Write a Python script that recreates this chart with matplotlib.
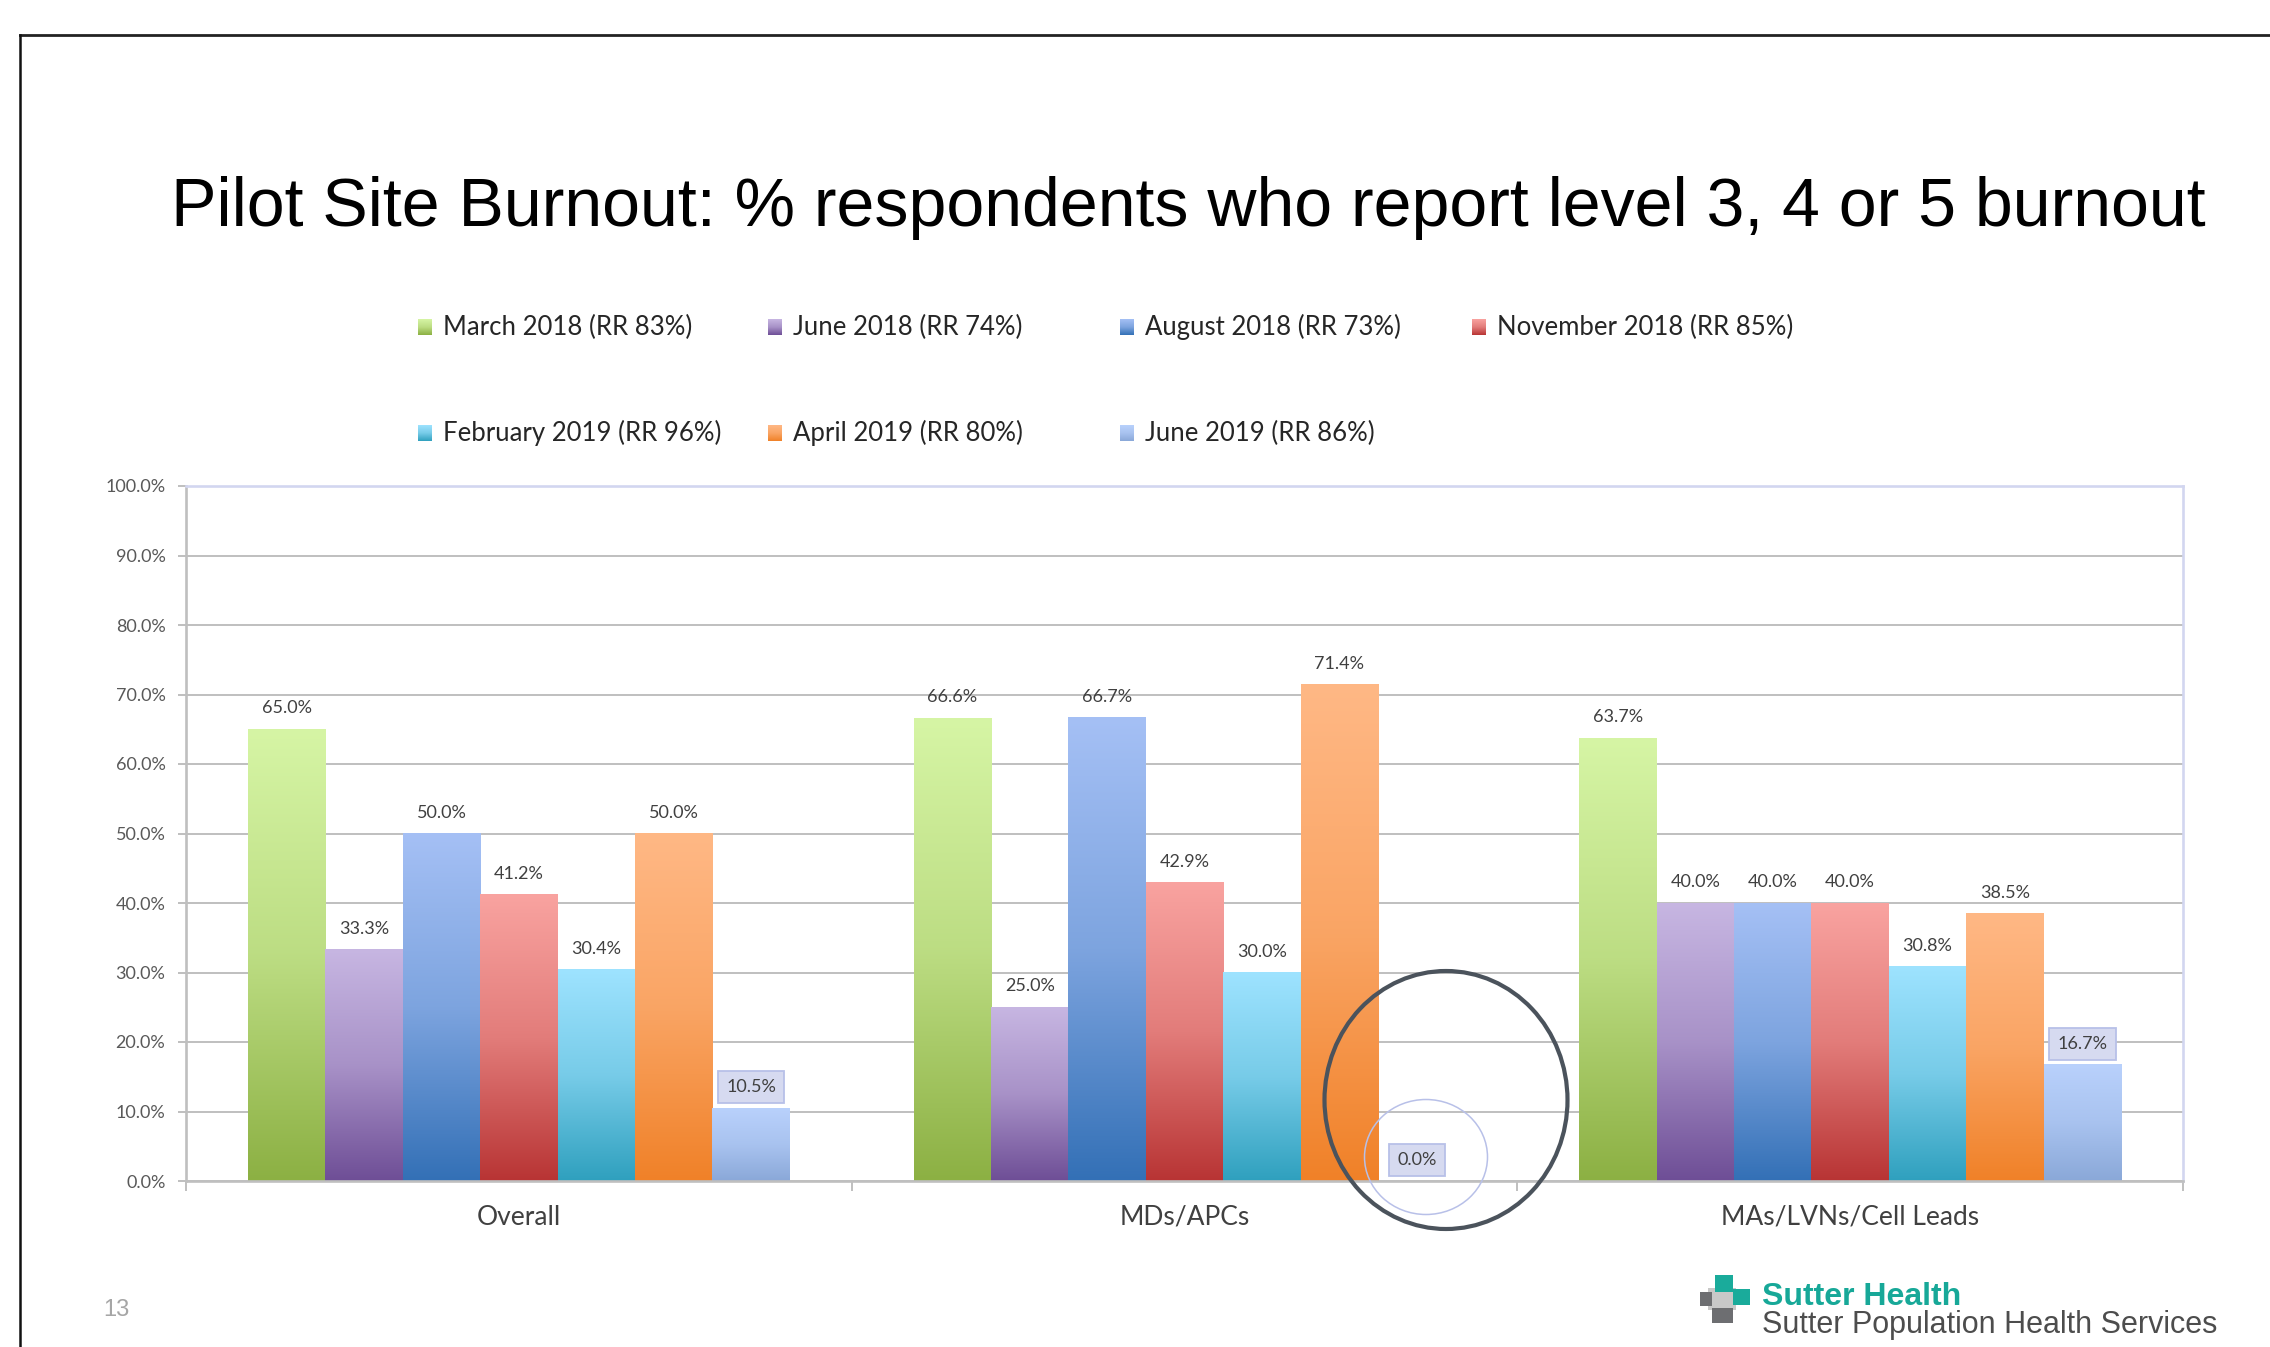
import numpy as np
import matplotlib.pyplot as plt
from matplotlib.colors import LinearSegmentedColormap, to_rgb
from matplotlib.patches import Ellipse, Rectangle
from matplotlib.lines import Line2D

plt.rcParams['font.family'] = ['Lato', 'DejaVu Sans']

# data
categories = ['Overall', 'MDs/APCs', 'MAs/LVNs/Cell Leads']
series = ['March 2018 (RR 83%)', 'June 2018 (RR 74%)', 'August 2018 (RR 73%)',
          'November 2018 (RR 85%)', 'February 2019 (RR 96%)', 'April 2019 (RR 80%)',
          'June 2019 (RR 86%)']
mar18 = [65.0, 66.6, 63.7]
jun18 = [33.3, 25.0, 40.0]
aug18 = [50.0, 66.7, 40.0]
nov18 = [41.2, 42.9, 40.0]
feb19 = [30.4, 30.0, 30.8]
apr19 = [50.0, 71.4, 38.5]
jun19 = [10.5, 0.0, 16.7]
values = [mar18, jun18, aug18, nov18, feb19, apr19, jun19]

# gradient colours (top, bottom)
tops = ['#d6f5a5', '#c7b6e2', '#a5c0f5', '#f9a3a0', '#9ee3ff', '#ffb885', '#b9d1fc']
bots = ['#8cb043', '#6e4e96', '#3370b6', '#b83434', '#2fa0be', '#f08128', '#8aa8d8']

W, H = 2270, 1347
fig = plt.figure(figsize=(W / 100, H / 100), dpi=100)


def fx(px):
    return px / W


def fy(py):
    return 1 - py / H


def grad_cmap(top, bot):
    t = np.array(to_rgb(top))
    b = np.array(to_rgb(bot))
    mid = 0.65 * t + 0.35 * b
    return LinearSegmentedColormap.from_list('g', [(0, b), (0.5, mid), (1, t)])


grad = np.linspace(0, 1, 256).reshape(-1, 1)

ax = fig.add_axes([fx(186), fy(1181), fx(2183) - fx(186), fy(486) - fy(1181)])

n = len(series)
bw = 1 / (n + 1.6)
x = np.arange(len(categories))

for j in range(n):
    cm = grad_cmap(tops[j], bots[j])
    bars = ax.bar(x + (j - (n - 1) / 2) * bw, values[j], width=bw,
                  color=tops[j], zorder=2, linewidth=0)
    for rect, v in zip(bars, values[j]):
        x0 = rect.get_x()
        if v > 0:
            ax.imshow(grad, cmap=cm, extent=[x0, x0 + bw, 0, v], origin='lower',
                      aspect='auto', zorder=2.1, interpolation='bicubic')
        box = None
        if j == n - 1:
            box = dict(boxstyle='square,pad=0.45', fc='#d6daf0', ec='#b8c0e8', lw=1.3)
        ax.annotate(f'{v:.1f}%', (x0 + bw / 2, v), xytext=(0, 15),
                    textcoords='offset points', ha='center', va='center',
                    fontsize=13, color='#404040', bbox=box, zorder=4)

ax.set_xlim(-0.5, 2.5)
ax.set_ylim(0, 100)
ax.set_yticks(np.arange(0, 101, 10))
ax.set_yticklabels([f'{t:.1f}%' for t in np.arange(0, 101, 10)])
ax.set_xticks(x)
ax.set_xticklabels(categories)
ax.set_xticks([-0.5, 0.5, 1.5, 2.5], minor=True)
ax.tick_params(axis='x', which='major', length=0, pad=17, labelsize=19, labelcolor='#404040')
ax.tick_params(axis='x', which='minor', length=7, width=1.4, color='#bfbfbf')
ax.tick_params(axis='y', length=5.8, width=1.4, color='#bfbfbf', pad=9,
               labelsize=13, labelcolor='#595959')
ax.grid(axis='y', color='#bfbfbf', lw=1.4)
ax.set_axisbelow(True)
for s in ['left', 'bottom']:
    ax.spines[s].set_color('#bfbfbf')
    ax.spines[s].set_linewidth(1.9)
for s in ['top', 'right']:
    ax.spines[s].set_color('#d2d6f0')
    ax.spines[s].set_linewidth(1.9)

# legend, laid out by hand like the slide
col_x = [418, 768, 1120, 1472]
row_y = [327, 433]
for k in range(n):
    cx, cy = col_x[k % 4], row_y[k // 4]
    lax = fig.add_axes([fx(cx), fy(cy + 8), 14 / W, 16 / H])
    lax.imshow(grad, cmap=grad_cmap(tops[k], bots[k]), origin='lower', aspect='auto')
    lax.axis('off')
    fig.text(fx(cx + 25), fy(cy), series[k], ha='left', va='center',
             fontsize=18.5, color='#262626')

# title
fig.text(fx(1188), fy(226), 'Pilot Site Burnout: % respondents who report level 3, 4 or 5 burnout',
         ha='center', va='baseline', fontsize=49, color='black', family='Liberation Sans')

# slide frame and page number
fig.add_artist(Line2D([fx(20), 1], [fy(35), fy(35)], color='#222222', lw=2))
fig.add_artist(Line2D([fx(20), fx(20)], [fy(35), 0], color='#111111', lw=1.8))
fig.text(fx(116), fy(1310), '13', ha='center', va='center', fontsize=17,
         color='#a6a6a6', family='Liberation Sans')

# circles drawn on the slide
fig.add_artist(Ellipse((fx(1446), fy(1100)), 243 / W, 258 / H, transform=fig.transFigure,
                       fill=False, ec='#4b535c', lw=3))
fig.add_artist(Ellipse((fx(1426), fy(1157)), 123 / W, 115 / H, transform=fig.transFigure,
                       fill=False, ec='#b8c0e8', lw=1.1))


# logo
def frect(x0, y0, x1, y1, c):
    fig.add_artist(Rectangle((fx(x0), fy(y1)), (x1 - x0) / W, (y1 - y0) / H,
                             transform=fig.transFigure, color=c, lw=0))


frect(1708, 1288, 1736, 1310, '#c8c8c8')
frect(1715, 1275, 1733, 1292, '#1aab9b')
frect(1733, 1289, 1750, 1305, '#1aab9b')
frect(1700, 1292, 1712, 1306, '#6d6e71')
frect(1712, 1308, 1733, 1323, '#6d6e71')
fig.text(fx(1762), fy(1305), 'Sutter Health', ha='left', va='baseline', fontsize=23,
         fontweight='bold', color='#17a898', family='Liberation Sans')
fig.text(fx(1762), fy(1333), 'Sutter Population Health Services', ha='left', va='baseline',
         fontsize=22, color='#4d4d4d', family='Liberation Sans')

fig.savefig('out.png', dpi=100)
